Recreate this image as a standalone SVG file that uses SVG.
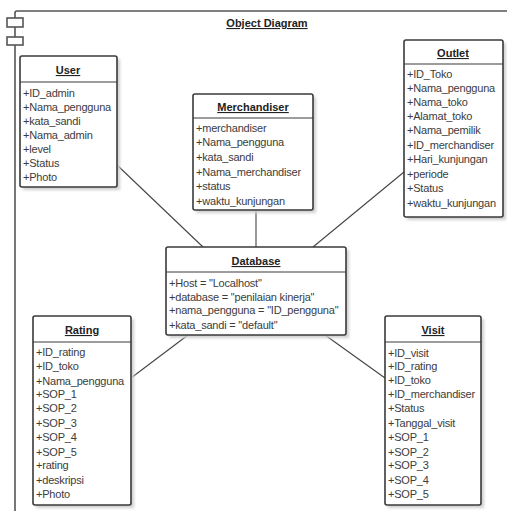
<svg xmlns="http://www.w3.org/2000/svg" width="507" height="511" viewBox="0 0 507 511">
  <defs>
    <filter id="soft" x="-10%" y="-10%" width="130%" height="130%">
      <feGaussianBlur stdDeviation="1.5"/>
    </filter>
  </defs>
  <style>
    .frame { fill: none; stroke: #555; stroke-width: 1.6; }
    .tab { fill: #ffffff; stroke: #555; stroke-width: 1.6; }
    .box { fill: #ffffff; stroke: #3a3a3a; stroke-width: 1.6; }
    .shadow { fill: #cfcfcf; filter: url(#soft); }
    .sep { stroke: #3a3a3a; stroke-width: 1.2; }
    .title { font-family: "Liberation Sans", Arial, sans-serif; font-size: 11px; font-weight: bold; fill: #222; text-anchor: middle; text-decoration: underline; }
    .attr { font-family: "Liberation Sans", Arial, sans-serif; font-size: 11px; fill: #3c3c3c; letter-spacing: -0.2px; }
    .link { stroke: #444; stroke-width: 1.1; fill: none; }
  </style>

  <!-- package frame with component tabs -->
  <g id="frame">
    <path class="frame" d="M15,511 V13 Q15,11 17,11 H507"/>
    <rect class="tab" x="7" y="18" width="16" height="9"/>
    <rect class="tab" x="7" y="37" width="16" height="8"/>
    <text class="title" x="267" y="27">Object Diagram</text>
  </g>

  <!-- links between objects -->
  <g id="connectors">
    <line class="link" x1="117" y1="165" x2="203" y2="247"/>
    <line class="link" x1="256" y1="210" x2="256" y2="247"/>
    <line class="link" x1="404" y1="172" x2="313" y2="247"/>
    <line class="link" x1="131" y1="378" x2="188" y2="335"/>
    <line class="link" x1="385" y1="378" x2="325" y2="335"/>
  </g>

  <g id="user">
    <rect class="shadow" x="23" y="59" width="97" height="131"/>
    <rect class="box" x="20" y="56" width="97" height="131" rx="2"/>
    <line class="sep" x1="20" y1="82" x2="117" y2="82"/>
    <text class="title" x="68" y="74">User</text>
    <text class="attr" x="23" y="97">+ID_admin</text>
    <text class="attr" x="23" y="111">+Nama_pengguna</text>
    <text class="attr" x="23" y="125">+kata_sandi</text>
    <text class="attr" x="23" y="139">+Nama_admin</text>
    <text class="attr" x="23" y="153">+level</text>
    <text class="attr" x="23" y="167">+Status</text>
    <text class="attr" x="23" y="181">+Photo</text>
  </g>

  <g id="merchandiser">
    <rect class="shadow" x="196" y="97" width="120" height="116"/>
    <rect class="box" x="193" y="94" width="120" height="116" rx="2"/>
    <line class="sep" x1="193" y1="118" x2="313" y2="118"/>
    <text class="title" x="253" y="111">Merchandiser</text>
    <text class="attr" x="196" y="132">+merchandiser</text>
    <text class="attr" x="196" y="146">+Nama_pengguna</text>
    <text class="attr" x="196" y="161">+kata_sandi</text>
    <text class="attr" x="196" y="176">+Nama_merchandiser</text>
    <text class="attr" x="196" y="190">+status</text>
    <text class="attr" x="196" y="205">+waktu_kunjungan</text>
  </g>

  <g id="outlet">
    <rect class="shadow" x="407" y="43" width="99" height="177"/>
    <rect class="box" x="404" y="40" width="99" height="177" rx="2"/>
    <line class="sep" x1="404" y1="64" x2="503" y2="64"/>
    <text class="title" x="453" y="57">Outlet</text>
    <text class="attr" x="407" y="78">+ID_Toko</text>
    <text class="attr" x="407" y="92">+Nama_pengguna</text>
    <text class="attr" x="407" y="106">+Nama_toko</text>
    <text class="attr" x="407" y="120">+Alamat_toko</text>
    <text class="attr" x="407" y="134">+Nama_pemilik</text>
    <text class="attr" x="407" y="149">+ID_merchandiser</text>
    <text class="attr" x="407" y="163">+Hari_kunjungan</text>
    <text class="attr" x="407" y="178">+periode</text>
    <text class="attr" x="407" y="192">+Status</text>
    <text class="attr" x="407" y="207">+waktu_kunjungan</text>
  </g>

  <g id="database">
    <rect class="shadow" x="169" y="250" width="180" height="88"/>
    <rect class="box" x="166" y="247" width="180" height="88" rx="2"/>
    <line class="sep" x1="166" y1="272" x2="346" y2="272"/>
    <text class="title" x="256" y="265">Database</text>
    <text class="attr" x="169" y="287">+Host = "Localhost"</text>
    <text class="attr" x="169" y="301">+database = "penilaian kinerja"</text>
    <text class="attr" x="169" y="314">+nama_pengguna = "ID_pengguna"</text>
    <text class="attr" x="169" y="329">+kata_sandi = "default"</text>
  </g>

  <g id="rating">
    <rect class="shadow" x="36" y="319" width="98" height="189"/>
    <rect class="box" x="33" y="316" width="98" height="189" rx="2"/>
    <line class="sep" x1="33" y1="342" x2="131" y2="342"/>
    <text class="title" x="82" y="334">Rating</text>
    <text class="attr" x="36" y="356">+ID_rating</text>
    <text class="attr" x="36" y="370">+ID_toko</text>
    <text class="attr" x="36" y="385">+Nama_pengguna</text>
    <text class="attr" x="36" y="398">+SOP_1</text>
    <text class="attr" x="36" y="412">+SOP_2</text>
    <text class="attr" x="36" y="427">+SOP_3</text>
    <text class="attr" x="36" y="441">+SOP_4</text>
    <text class="attr" x="36" y="456">+SOP_5</text>
    <text class="attr" x="36" y="469">+rating</text>
    <text class="attr" x="36" y="484">+deskripsi</text>
    <text class="attr" x="36" y="498">+Photo</text>
  </g>

  <g id="visit">
    <rect class="shadow" x="388" y="319" width="96" height="189"/>
    <rect class="box" x="385" y="316" width="96" height="189" rx="2"/>
    <line class="sep" x1="385" y1="342" x2="481" y2="342"/>
    <text class="title" x="433" y="334">Visit</text>
    <text class="attr" x="388" y="357">+ID_visit</text>
    <text class="attr" x="388" y="370">+ID_rating</text>
    <text class="attr" x="388" y="384">+ID_toko</text>
    <text class="attr" x="388" y="398">+ID_merchandiser</text>
    <text class="attr" x="388" y="412">+Status</text>
    <text class="attr" x="388" y="427">+Tanggal_visit</text>
    <text class="attr" x="388" y="441">+SOP_1</text>
    <text class="attr" x="388" y="456">+SOP_2</text>
    <text class="attr" x="388" y="469">+SOP_3</text>
    <text class="attr" x="388" y="484">+SOP_4</text>
    <text class="attr" x="388" y="498">+SOP_5</text>
  </g>
</svg>
